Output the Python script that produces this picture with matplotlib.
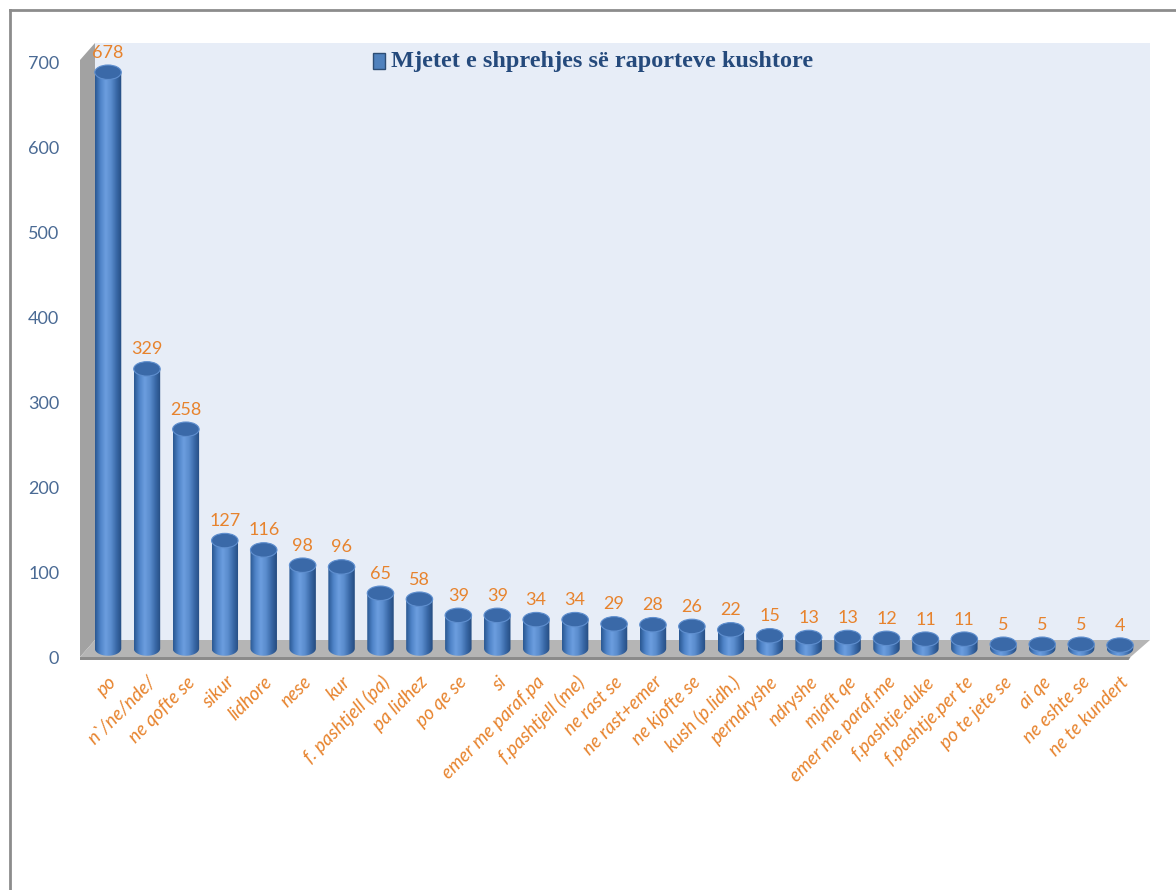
import numpy as np
import matplotlib
matplotlib.use('Agg')
import matplotlib.pyplot as plt
from matplotlib.patches import Ellipse, Polygon, Rectangle
from matplotlib.colors import LinearSegmentedColormap
from matplotlib.lines import Line2D

# data
labels = ["po", "n`/ne/nde/", "ne qofte se", "sikur", "lidhore", "nese", "kur",
          "f. pashtjell (pa)", "pa lidhez", "po qe se", "si", "emer me paraf.pa",
          "f.pashtjell (me)", "ne rast se", "ne rast+emer", "ne kjofte se",
          "kush (p.lidh.)", "perndryshe", "ndryshe", "mjaft qe", "emer me paraf.me",
          "f.pashtje.duke", "f.pashtje.per te", "po te jete se", "ai qe",
          "ne eshte se", "ne te kundert"]
values = [678, 329, 258, 127, 116, 98, 96, 65, 58, 39, 39, 34, 34, 29, 28, 26,
          22, 15, 13, 13, 12, 11, 11, 5, 5, 5, 4]
yticks = [0, 100, 200, 300, 400, 500, 600, 700]
series_name = "Mjetet e shprehjes së raporteve kushtore"

orange = '#E7832D'
tick_blue = '#4A6A94'

fig = plt.figure(figsize=(11.76, 8.9), dpi=100)
ax = fig.add_axes([80/1176, (890-665)/890, 1070/1176, 622/890])

n = len(values)
xlo, xhi = -0.72, n - 1 + 0.77
ylo, yhi = -9.4, 722.4
ddx, ddy = 0.385, 20      # depth offset of the 3d box
wall_x = xlo + ddx

# back wall, side wall, floor
ax.add_patch(Polygon([(wall_x, ddy), (xhi, ddy), (xhi, yhi), (wall_x, yhi)],
                     facecolor='#E7EDF7', edgecolor='none', zorder=0))
ax.add_patch(Polygon([(xlo, 0), (wall_x, ddy), (wall_x, yhi), (xlo, yhi - ddy)],
                     facecolor='#A2A2A2', edgecolor='none', zorder=0))
ax.add_patch(Polygon([(xlo, 0), (wall_x, ddy), (xhi, ddy), (xhi - 0.5, 0)],
                     facecolor='#B5B5B5', edgecolor='none', zorder=1))
ax.add_patch(Polygon([(xlo, 0), (xhi - 0.5, 0), (xhi - 0.55, -3.5), (xlo, -3.5)],
                     facecolor='#8A8A8A', edgecolor='none', zorder=1))

# cylinders
cmap = LinearSegmentedColormap.from_list(
    'cyl', ['#2A5892', '#4F84C8', '#6C9EDF', '#5A8CCD', '#3A69A8', '#244C80'])
grad = np.linspace(0, 1, 64).reshape(1, -1)
w, eh, base = 0.68, 17, 10
for i, v in enumerate(values):
    left, right, top = i - w/2, i + w/2, base + v
    t = np.linspace(np.pi, 2*np.pi, 40)
    lower = np.column_stack([i + w/2*np.cos(t), base + eh/2*np.sin(t)])
    verts = np.vstack([lower, [[right, top], [left, top]]])
    clip = Polygon(verts, closed=True, facecolor='none', edgecolor='none')
    ax.add_patch(clip)
    im = ax.imshow(grad, cmap=cmap, extent=[left, right, base - eh/2, top],
                   aspect='auto', zorder=2, interpolation='bilinear')
    im.set_clip_path(clip)
    ax.add_patch(Ellipse((i, top), w, eh, facecolor='#3A69A8',
                         edgecolor='#5F8FCF', lw=0.8, zorder=3))
    ax.text(i, top + eh/2 + 5, str(v), ha='center', va='bottom', color=orange,
            fontsize=13, family='Lato', zorder=4)

ax.set_xlim(xlo, xhi)
ax.set_ylim(ylo, yhi)
ax.set_yticks(yticks)
ax.set_yticklabels([str(t) for t in yticks], color=tick_blue, fontsize=13, family='Lato')
ax.tick_params(axis='y', length=0, pad=15)
ax.set_xticks(range(n))
ax.set_xticklabels(labels, rotation=45, ha='right', rotation_mode='anchor',
                   color=orange, fontstyle='italic', fontsize=13.5, family='Lato')
ax.tick_params(axis='x', length=0, pad=6)
for s in ax.spines.values():
    s.set_visible(False)
ax.patch.set_visible(False)

# legend entry at the top
fig.add_artist(Rectangle((373/1176, 1 - 69/890), 12/1176, 16/890,
                         facecolor='#4F81BD', edgecolor='#2C4D75', lw=1,
                         transform=fig.transFigure))
fig.text(391/1176, 1 - 61/890, series_name, family='Liberation Serif',
         fontweight='bold', fontsize=17.5, color='#254A7C', va='center', ha='left')

# outer frame
fig.add_artist(Line2D([10/1176, 10/1176], [0, 1 - 10/890], color='#8C8C8C', lw=2))
fig.add_artist(Line2D([10/1176, 1], [1 - 10/890, 1 - 10/890], color='#8C8C8C', lw=2))

fig.savefig('out.png', dpi=100)
